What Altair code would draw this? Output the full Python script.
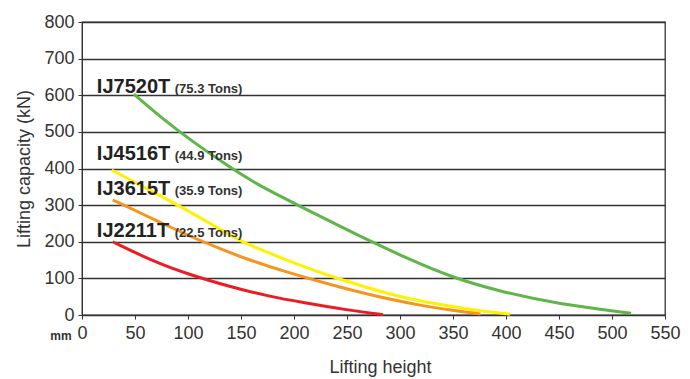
import altair as alt
import pandas as pd

# ---- data ----
green_x = [49, 75, 104, 136, 164, 205, 243, 271, 304, 351, 395, 449, 518]
green_y = [603, 538, 474, 410, 358, 298, 243, 203, 158, 100, 64, 30, 5]

yellow_x = [28, 71, 103, 134, 150, 197, 244, 291, 320, 370, 404]
yellow_y = [396, 330, 280, 228, 200, 145, 96, 56, 37, 13, 2]

orange_x = [29, 71, 103, 134, 150, 197, 244, 291, 320, 350, 376]
orange_y = [314, 257, 213, 177, 158, 113, 75, 42, 26, 12, 3]

red_x = [29, 71, 103, 134, 150, 175, 206, 254, 284]
red_y = [200, 141, 109, 82, 70, 52, 35, 12, 1]

models = ["IJ7520T", "IJ4516T", "IJ3615T", "IJ2211T"]
tons = ["(75.3 Tons)", "(44.9 Tons)", "(35.9 Tons)", "(22.5 Tons)"]
colors = ["#5fb548", "#fff200", "#f7941d", "#ec1c24"]
label_y = [606, 423, 328, 214]
model_label_x = 14
tons_label_x = 87.5

x_ticks = list(range(0, 551, 50))
y_ticks = list(range(0, 801, 100))

rows = []
for name, xs, ys in zip(models, [green_x, yellow_x, orange_x, red_x],
                        [green_y, yellow_y, orange_y, red_y]):
    for i, (xv, yv) in enumerate(zip(xs, ys)):
        rows.append({"series": name, "x": xv, "y": yv, "i": i})
df = pd.DataFrame(rows)

labels = pd.DataFrame({
    "series": models,
    "tons": tons,
    "y": label_y,
    "mx": [model_label_x] * 4,
    "tx": [tons_label_x] * 4,
})

FONT = "Liberation Sans"
DARK = "#333333"

xscale = alt.Scale(domain=[0, 550], nice=False)
yscale = alt.Scale(domain=[0, 800], nice=False)

xaxis = alt.Axis(values=x_ticks, title="Lifting height", grid=False,
                 tickSize=4, labelPadding=5, labelFontSize=18,
                 labelFont=FONT, labelColor=DARK, labelFlush=False,
                 labelOverlap=False,
                 labelExpr="'\u00a0\u00a0' + datum.label",
                 titleFont=FONT, titleFontSize=18, titleFontWeight="normal",
                 titleColor=DARK, titlePadding=16, titleX=298,
                 domainColor=DARK, tickColor=DARK)
yaxis = alt.Axis(values=y_ticks, title="Lifting capacity (kN)", grid=True,
                 gridColor=DARK, gridWidth=1.3, tickSize=4, labelPadding=4,
                 labelFontSize=18, labelFont=FONT, labelColor=DARK,
                 labelOverlap=False,
                 titleFont=FONT, titleFontSize=18, titleFontWeight="normal",
                 titleColor=DARK, titlePadding=10,
                 domainColor=DARK, tickColor=DARK)

lines = alt.Chart(df).mark_line(strokeWidth=3, interpolate="basis").encode(
    x=alt.X("x:Q", scale=xscale, axis=xaxis),
    y=alt.Y("y:Q", scale=yscale, axis=yaxis),
    color=alt.Color("series:N", scale=alt.Scale(domain=models, range=colors), legend=None),
    detail="series:N",
    order="i:Q",
)

model_text = alt.Chart(labels).mark_text(
    align="left", baseline="alphabetic", font=FONT, fontSize=20,
    fontWeight="bold", color="#222222"
).encode(x=alt.X("mx:Q", scale=xscale, axis=xaxis),
         y=alt.Y("y:Q", scale=yscale, axis=yaxis), text="series:N")

tons_text = alt.Chart(labels).mark_text(
    align="left", baseline="alphabetic", font=FONT, fontSize=13,
    fontWeight="bold", color="#333333"
).encode(x=alt.X("tx:Q", scale=xscale, axis=xaxis),
         y=alt.Y("y:Q", scale=yscale, axis=yaxis), text="tons:N")

mm_text = alt.Chart(pd.DataFrame({"t": ["mm"]})).mark_text(
    align="center", baseline="alphabetic", font=FONT, fontSize=12,
    fontWeight="bold", color="#333333"
).encode(x=alt.value(-21), y=alt.value(318), text="t:N")

chart = alt.layer(lines, model_text, tons_text, mm_text).properties(
    width=583, height=293,
    autosize="none",
    padding={"left": 74, "top": 14, "right": 17, "bottom": 64},
).configure_view(stroke=DARK, strokeWidth=1.3)

chart.save("out.html", embed_options={"renderer": "svg", "actions": False})
